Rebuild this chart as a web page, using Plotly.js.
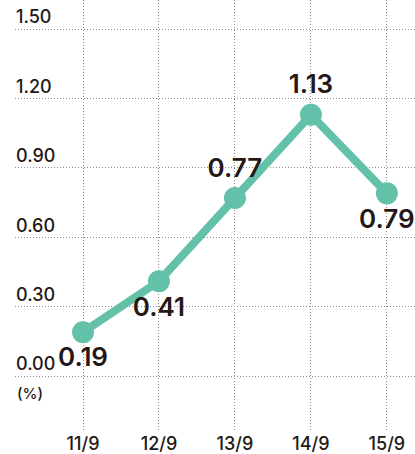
<!DOCTYPE html>
<html>
<head>
<meta charset="utf-8">
<script src="https://cdn.plot.ly/plotly-3.0.1.min.js"></script>
<style>html,body{margin:0;padding:0;background:#fff;}#chart{width:415px;height:454px;}</style>
</head>
<body>
<div id="chart"></div>
<script>
var categories = ["11/9", "12/9", "13/9", "14/9", "15/9"];
var values = [0.19, 0.41, 0.77, 1.13, 0.79];
var valueLabels = ["0.19", "0.41", "0.77", "1.13", "0.79"];
var labelPositions = ["bottom center", "bottom center", "top center", "top center", "bottom center"];
var yTickVals = [0, 0.3, 0.6, 0.9, 1.2, 1.5];
var yTickText = ["0.00", "0.30", "0.60", "0.90", "1.20", "1.50"];
var unitLabel = "(%)";

var textColor = "#231815";
var lineColor = "#62c1a8";
var gridColor = "#8c8c8c";
var font = "Inter, Liberation Sans, Arial, sans-serif";

var trace = {
  type: "scatter",
  mode: "lines+markers+text",
  x: categories,
  y: values,
  text: valueLabels,
  textposition: labelPositions,
  textfont: {family: font, size: 26, weight: 600, color: textColor},
  line: {color: lineColor, width: 8},
  marker: {color: lineColor, size: 22},
  hoverinfo: "skip",
  cliponaxis: false
};

var layout = {
  width: 415,
  height: 454,
  margin: {l: 15, r: 0, t: 0, b: 24},
  paper_bgcolor: "#fff",
  plot_bgcolor: "#fff",
  showlegend: false,
  font: {family: font, color: textColor},
  xaxis: {
    type: "category",
    range: [-0.895, 4.37],
    showgrid: true,
    gridcolor: gridColor,
    griddash: "1px,2px",
    gridwidth: 1,
    zeroline: false,
    showline: false,
    ticks: "",
    ticklabelstandoff: 1,
    tickfont: {family: font, size: 18, weight: 500, color: textColor},
    fixedrange: true
  },
  yaxis: {
    range: [-0.233, 1.626],
    tickvals: yTickVals,
    ticktext: yTickText,
    ticklabelposition: "inside",
    ticklabelshift: -12,
    ticklabelstandoff: -2,
    showgrid: true,
    gridcolor: gridColor,
    griddash: "1px,2px",
    gridwidth: 1,
    zeroline: false,
    showline: false,
    ticks: "",
    tickfont: {family: font, size: 18, weight: 500, color: textColor},
    fixedrange: true
  },
  annotations: [{
    xref: "paper", yref: "y",
    x: 0, y: 0,
    xanchor: "left", yanchor: "middle",
    yshift: -17,
    text: unitLabel,
    showarrow: false,
    font: {family: font, size: 15, weight: 500, color: textColor}
  }]
};

Plotly.newPlot("chart", [trace], layout, {displayModeBar: false, staticPlot: true});
</script>
</body>
</html>
